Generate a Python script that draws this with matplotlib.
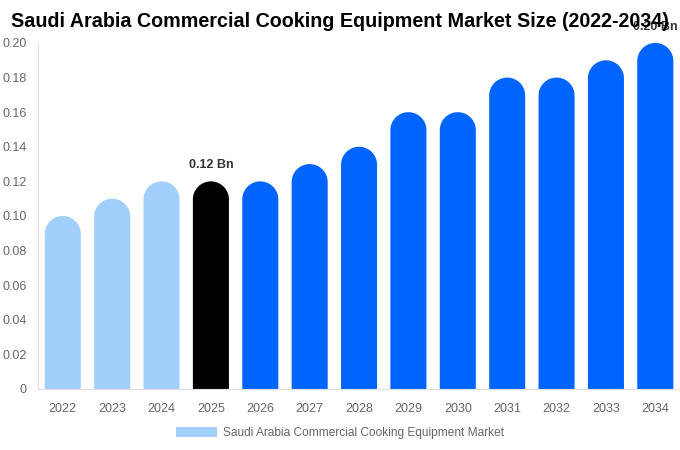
import matplotlib
matplotlib.use('Agg')
import numpy as np
import matplotlib.pyplot as plt
from matplotlib.patches import PathPatch, Patch
from matplotlib.path import Path

plt.rcParams['font.family'] = ['Liberation Sans', 'DejaVu Sans']

years = ['2022', '2023', '2024', '2025', '2026', '2027', '2028',
         '2029', '2030', '2031', '2032', '2033', '2034']
values = [0.10, 0.11, 0.12, 0.12, 0.12, 0.13, 0.14,
          0.16, 0.16, 0.18, 0.18, 0.19, 0.20]
colors = ['#a3cffc'] * 3 + ['#000000'] + ['#0064ff'] * 9
labels = {3: '0.12 Bn', 12: '0.20 Bn'}
yticks = [0, 0.02, 0.04, 0.06, 0.08, 0.10, 0.12, 0.14, 0.16, 0.18, 0.20]

fig = plt.figure(figsize=(6.8, 4.5), dpi=100)
ax = fig.add_axes([0.056, 0.1356, 0.944, 0.7689])
ax.set_xlim(-0.5, len(years) - 0.5)
ax.set_ylim(0, 0.20)

# rounded caps: half the bar width in pixels, converted to data units
bw = 0.73
ax_h_px = 0.7689 * 450
ax_w_px = 0.944 * 680
cap_px = bw * ax_w_px / len(years) / 2
ry = cap_px * 0.20 / ax_h_px
theta = np.linspace(np.pi, 0, 40)

for i, (v, c) in enumerate(zip(values, colors)):
    x0, x1 = i - bw / 2, i + bw / 2
    arc_x = i + bw / 2 * np.cos(theta)
    arc_y = (v - ry) + ry * np.sin(theta)
    verts = [(x0, 0)] + list(zip(arc_x, arc_y)) + [(x1, 0), (x0, 0)]
    codes = [Path.MOVETO] + [Path.LINETO] * (len(verts) - 2) + [Path.CLOSEPOLY]
    ax.add_patch(PathPatch(Path(verts, codes), facecolor=c, edgecolor='none'))
    if i in labels:
        ax.text(i, v + 0.006, labels[i], ha='center', va='bottom', fontsize=9,
                fontweight='bold', color='#333333', clip_on=False)

ax.set_xticks(range(len(years)))
ax.set_xticklabels(years)
ax.set_yticks(yticks)
ax.set_yticklabels(['0' if t == 0 else f'{t:.2f}' for t in yticks])
ax.tick_params(axis='both', length=0, labelsize=9, labelcolor='#666666')
ax.tick_params(axis='x', pad=10)
ax.tick_params(axis='y', pad=8)

for s in ['top', 'right']:
    ax.spines[s].set_visible(False)
for s in ['left', 'bottom']:
    ax.spines[s].set_color('#e0e0e0')
    ax.spines[s].set_linewidth(0.8)

fig.text(0.5, 0.952, 'Saudi Arabia Commercial Cooking Equipment Market Size (2022-2034)',
         ha='center', va='center', fontsize=14.2, fontweight='bold', color='#000000')

handle = Patch(facecolor='#a3cffc', edgecolor='none')
fig.legend([handle], ['Saudi Arabia Commercial Cooking Equipment Market'],
           loc='center', bbox_to_anchor=(0.5, 0.038), frameon=False,
           fontsize=8.6, labelcolor='#666666', handlelength=3.4, handleheight=1.0,
           handletextpad=0.5)

fig.savefig('out.png', dpi=100)
